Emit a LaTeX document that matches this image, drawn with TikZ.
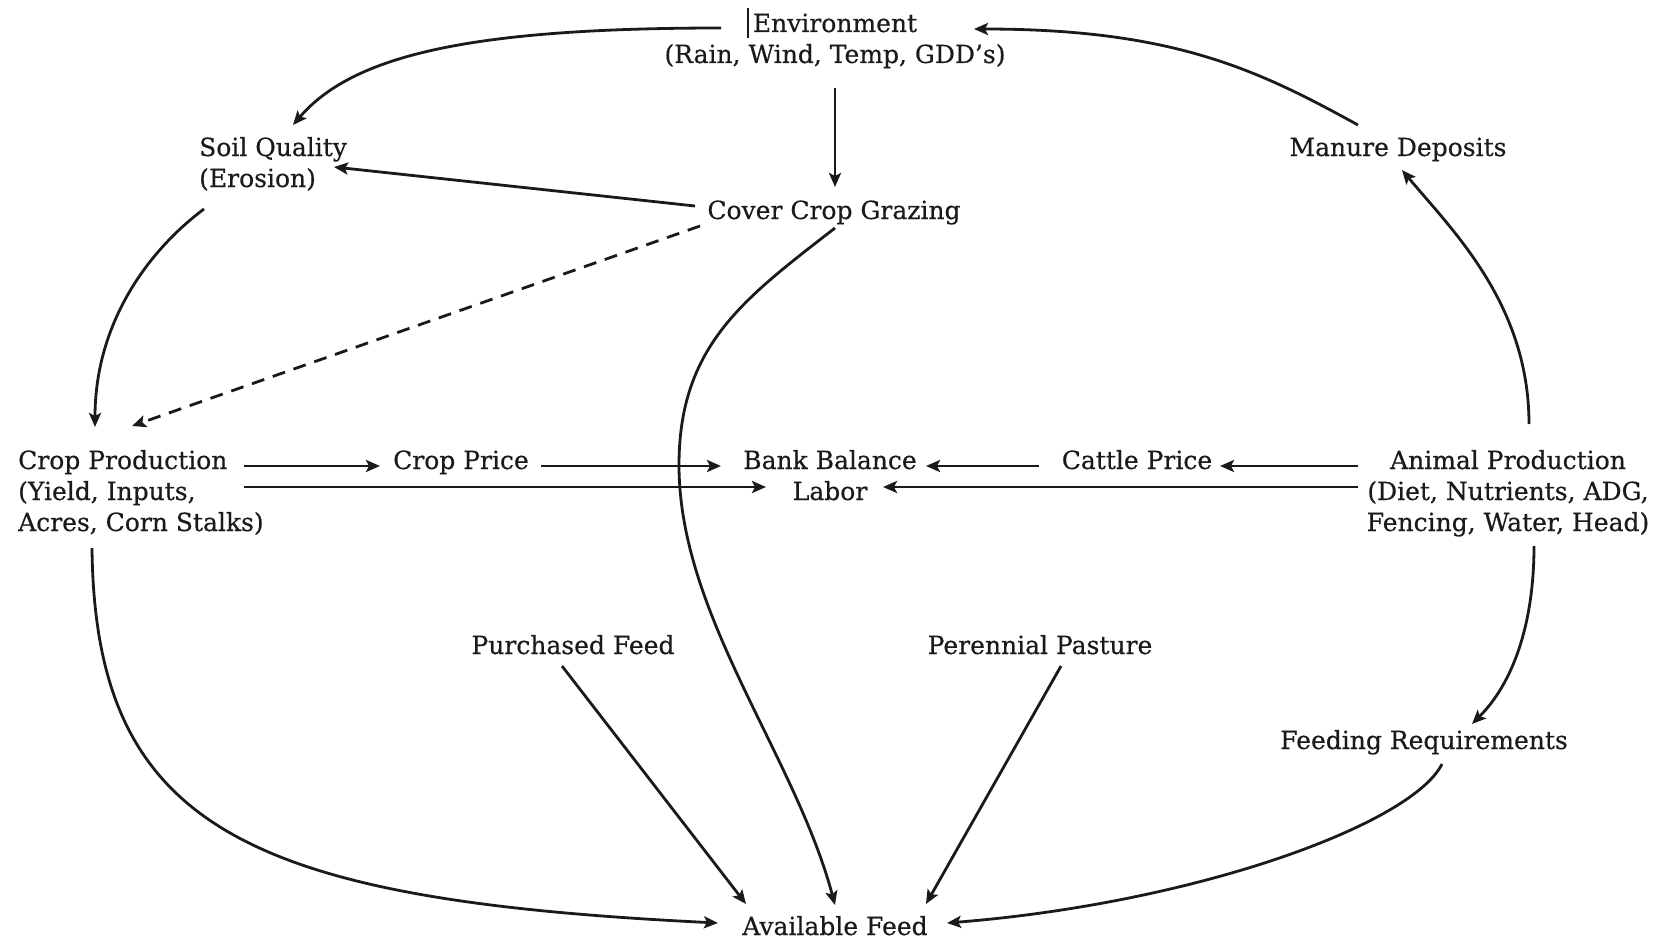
\documentclass[tikz,border=0pt]{standalone}
\usepackage{fontspec}
\setmainfont[FakeBold=0.45]{DejaVu Serif}
\usetikzlibrary{arrows.meta,calc}
\definecolor{ink}{HTML}{1A1A1A}
\tikzset{
  lbl/.style={inner sep=0pt, text=ink, font=\fontsize{25}{31}\selectfont},
  arr/.style={draw=ink, line width=2.8pt, -{Stealth[length=14pt,width=12pt,inset=3pt]}},
  darr/.style={arr, dash pattern=on 13pt off 9pt},
}
\begin{document}
\begin{tikzpicture}[x=1pt,y=-1pt]
\useasboundingbox (0,0) rectangle (1663,942);
% nodes (base anchor = baseline of the last line)
\node[lbl,anchor=base,align=center] (env) at (835,63) {Environment\\(Rain, Wind, Temp, GDD’s)};
\node[lbl,anchor=base west,align=left] (soil) at (199,187) {Soil Quality\\(Erosion)};
\node[lbl,anchor=base] (cover) at (834,219) {Cover Crop Grazing};
\node[lbl,anchor=base] (manure) at (1398,156) {Manure Deposits};
\node[lbl,anchor=base west,align=left] (crop) at (18,531) {Crop Production\\(Yield, Inputs,\\Acres, Corn Stalks)};
\node[lbl,anchor=base] (cprice) at (461,469) {Crop Price};
\node[lbl,anchor=base,align=center] (bank) at (830,500) {Bank Balance\\Labor};
\node[lbl,anchor=base] (cattle) at (1137,469) {Cattle Price};
\node[lbl,anchor=base,align=center] (animal) at (1508,531) {Animal Production\\(Diet, Nutrients, ADG,\\Fencing, Water, Head)};
\node[lbl,anchor=base] (purch) at (573,654) {Purchased Feed};
\node[lbl,anchor=base] (peren) at (1040,654) {Perennial Pasture};
\node[lbl,anchor=base] (feed) at (1424,749) {Feeding Requirements};
\node[lbl,anchor=base] (avail) at (835,935) {Available Feed};
% text cursor
\draw[ink,line width=1.6pt] ($(env.base)+(-87,-55)$) -- ($(env.base)+(-87,-25)$);
% connectors
\draw[arr] ($(env.base)+(-114,-35)$) .. controls +(-250,0) and +(60,-70) .. ($(soil.base west)+(94,-62)$);
\draw[arr] ($(manure.base)+(-40,-31)$) .. controls +(-100,-55) and +(200,0) .. ($(env.base)+(139,-34)$);
\draw[arr] ($(env.base)+(0,25)$) -- ($(cover.base)+(1,-32)$);
\draw[arr] ($(cover.base)+(-139,-13)$) -- ($(soil.base west)+(135,-20)$);
\draw[darr] ($(cover.base)+(-134,7)$) -- ($(crop.base west)+(114,-105)$);
\draw[arr] ($(soil.base west)+(5,22)$) .. controls +(-60,45) and +(0,-100) .. ($(crop.base west)+(77,-104)$);
\coordinate (mid) at (679,465);
\draw[arr] ($(cover.base)+(1,9)$) .. controls +(-90,70) and +(0,-120) .. (mid)
  .. controls +(0,150) and +(-40,-150) .. ($(avail.base)+(0,-30)$);
\draw[arr] ($(crop.base west)+(226,-65)$) -- ($(cprice.base)+(-81,-3)$);
\draw[arr] ($(cprice.base)+(80,-3)$) -- ($(bank.base)+(-109,-34)$);
\draw[arr] ($(crop.base west)+(226,-44)$) -- ($(bank.base)+(-64,-13)$);
\draw[arr] ($(cattle.base)+(-98,-3)$) -- ($(bank.base)+(96,-34)$);
\draw[arr] ($(animal.base)+(-150,-65)$) -- ($(cattle.base)+(83,-3)$);
\draw[arr] ($(animal.base)+(-150,-44)$) -- ($(bank.base)+(53,-13)$);
\draw[arr] ($(animal.base)+(21,-107)$) .. controls +(0,-120) and +(50,60) .. ($(manure.base)+(4,14)$);
\draw[arr] ($(animal.base)+(26,15)$) .. controls +(0,80) and +(40,-40) .. ($(feed.base)+(48,-25)$);
\draw[arr] ($(crop.base west)+(74,17)$) .. controls +(3,282) and +(-468,-23) .. ($(avail.base)+(-117,-12)$);
\draw[arr] ($(purch.base)+(-11,12)$) -- ($(avail.base)+(-89,-31)$);
\draw[arr] ($(peren.base)+(21,12)$) -- ($(avail.base)+(91,-31)$);
\draw[arr] ($(feed.base)+(18,15)$) .. controls +(-30,60) and +(250,-20) .. ($(avail.base)+(112,-12)$);
\end{tikzpicture}
\end{document}
